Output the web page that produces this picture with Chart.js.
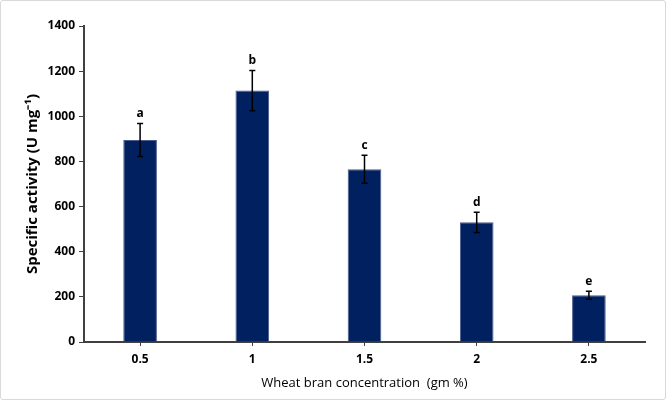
<!DOCTYPE html>
<html lang="en">
<head>
  <meta charset="UTF-8">
  <title>Specific activity vs wheat bran concentration</title>
  <script src="https://cdn.jsdelivr.net/npm/chart.js"></script>
  <style>
    body {
      margin: 0;
      padding: 0;
      background-color: #fff;
    }
    .frame {
      position: relative;
      width: 666px;
      height: 400px;
      box-sizing: border-box;
      border: 1px solid #d9d9d9;
      border-radius: 3px;
      overflow: hidden;
    }
    canvas {
      position: absolute;
      left: -1px;
      top: -1px;
    }
  </style>
</head>
<body>
  <div class="frame">
    <canvas id="activityChart" width="666" height="400"></canvas>
  </div>

  <script>
    // Data
    const concentrations = ['0.5', '1', '1.5', '2', '2.5'];
    const activity = [895, 1114, 765, 530, 207];
    const errors = [73, 89, 62, 45, 18];
    const letters = ['a', 'b', 'c', 'd', 'e'];
    const yTicks = [0, 200, 400, 600, 800, 1000, 1200, 1400];

    const fontFamily = "'Open Sans', 'Liberation Sans', sans-serif";

    // Error bars + significance letters, drawn through the chart's own scales
    const errorBarPlugin = {
      id: 'errorBars',
      afterDatasetsDraw(chart) {
        const ctx = chart.ctx;
        const xScale = chart.scales.x;
        const yScale = chart.scales.y;
        ctx.save();
        ctx.strokeStyle = '#000';
        ctx.lineWidth = 1.5;
        activity.forEach((v, i) => {
          const x = xScale.getPixelForValue(i);
          const top = yScale.getPixelForValue(v + errors[i]);
          const bottom = yScale.getPixelForValue(v - errors[i]);
          ctx.beginPath();
          ctx.moveTo(x, top);
          ctx.lineTo(x, bottom);
          ctx.moveTo(x - 3, top);
          ctx.lineTo(x + 3, top);
          ctx.moveTo(x - 3, bottom);
          ctx.lineTo(x + 3, bottom);
          ctx.stroke();

          ctx.fillStyle = '#000';
          ctx.font = "bold 12px " + fontFamily;
          ctx.textAlign = 'center';
          ctx.textBaseline = 'bottom';
          ctx.fillText(letters[i], x, top - 4);
        });
        ctx.restore();
      }
    };

    new Chart(document.getElementById('activityChart'), {
      type: 'bar',
      data: {
        labels: concentrations,
        datasets: [{
          data: activity,
          backgroundColor: '#002060',
          borderColor: '#4a5a8c',
          borderWidth: 1,
          categoryPercentage: 1.0,
          barPercentage: 0.3
        }]
      },
      options: {
        responsive: false,
        animation: false,
        layout: {
          padding: { left: 24, right: 21, top: 26, bottom: 0 }
        },
        plugins: {
          legend: { display: false },
          tooltip: { enabled: false }
        },
        scales: {
          x: {
            grid: {
              display: true,
              drawOnChartArea: false,
              drawTicks: true,
              tickLength: 4,
              offset: false,
              color: '#404040'
            },
            border: { display: true, color: '#404040', width: 2 },
            ticks: {
              color: '#000',
              padding: 6,
              font: { family: fontFamily, size: 12, weight: 'bold' }
            },
            title: {
              display: true,
              text: 'Wheat bran concentration  (gm %)',
              color: '#000',
              padding: { top: 0, bottom: 9 },
              font: { family: fontFamily, size: 13 }
            },
            afterFit(scale) { scale.height = 58; }
          },
          y: {
            min: 0,
            max: 1400,
            afterBuildTicks(scale) {
              scale.ticks = yTicks.map(v => ({ value: v }));
            },
            grid: {
              display: true,
              drawOnChartArea: false,
              drawTicks: true,
              tickLength: 5,
              color: '#404040'
            },
            border: { display: true, color: '#404040', width: 2 },
            ticks: {
              color: '#000',
              padding: 4,
              callback: v => String(v),
              font: { family: fontFamily, size: 12, weight: 'bold' }
            },
            title: {
              display: true,
              text: 'Specific activity (U mg\u207B\u00B9)',
              color: '#000',
              padding: { top: 0, bottom: 4 },
              font: { family: fontFamily, size: 15, weight: 'bold' }
            },
            afterFit(scale) { scale.width = 60; }
          }
        }
      },
      plugins: [errorBarPlugin]
    });
  </script>
</body>
</html>
